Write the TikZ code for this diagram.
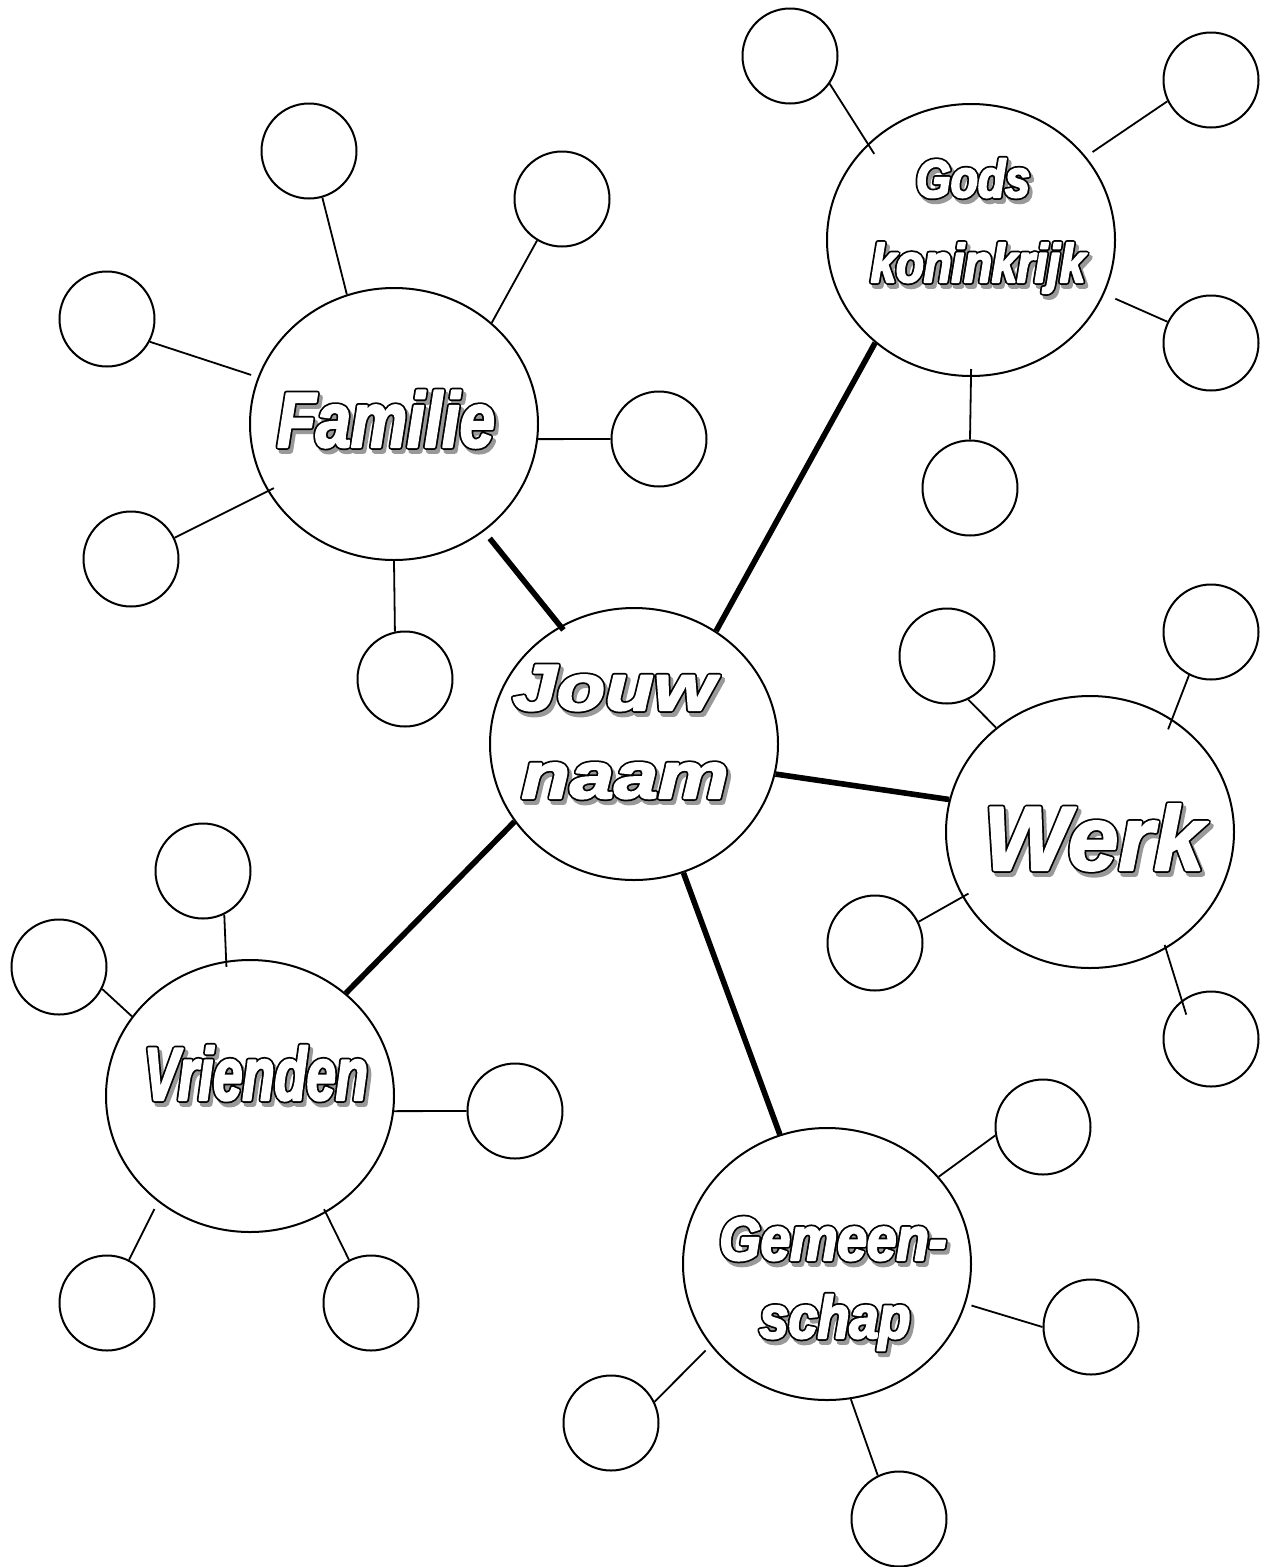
\documentclass[tikz,border=0pt]{standalone}
\usepackage{fontspec}
\usetikzlibrary{shapes.geometric}
\setmainfont{Liberation Sans}
\newfontfamily\fFam{Liberation Sans}[FakeStretch=0.81]
\newfontfamily\fVri{Liberation Sans}[FakeStretch=0.70]
\newfontfamily\fGod{Liberation Sans}[FakeStretch=0.84]
\newfontfamily\fWrk{Liberation Sans}[FakeStretch=1.0]
\newfontfamily\fJou{Liberation Sans}[FakeStretch=1.22]
\newfontfamily\fGem{Liberation Sans}[FakeStretch=0.87]
\definecolor{shadowgray}{gray}{0.6}
\newcommand\rmode[1]{\special{pdf:literal direct #1}}
\newcommand\fancytxt[1]{%
\makebox[0pt][l]{\hspace{3pt}\raisebox{-4pt}{\textcolor{shadowgray}{\rmode{2 Tr 0.6 G 5.5 w 1 j}#1\rmode{0 Tr}}}}%
\makebox[0pt][l]{\textcolor{black}{\rmode{2 Tr 0 G 5.5 w 1 j}#1\rmode{0 Tr}}}%
\textcolor{white}{\rmode{2 Tr 1 G 2 w 1 j}#1\rmode{0 Tr}}}
\begin{document}
\begin{tikzpicture}[x=1pt,y=-1pt,
  big/.style={draw,ellipse,line width=2pt,minimum width=288pt,minimum height=272pt,inner sep=0pt},
  small/.style={draw,circle,line width=2pt,minimum size=95pt,inner sep=0pt},
  thin/.style={line width=1.8pt},
  thickc/.style={line width=5.6pt},
  txt/.style={inner sep=0pt,anchor=base}]
\useasboundingbox (0,0) rectangle (1264,1567);
% big nodes
\node[big] (jouw) at (634,744) {};
\node[big] (fam) at (394,424) {};
\node[big] (gods) at (971,240) {};
\node[big] (werk) at (1090,832) {};
\node[big] (vri) at (250,1096) {};
\node[big] (gem) at (827,1264) {};
% small circles
\node[small] (f1) at (309,151) {};
\node[small] (f2) at (562,199) {};
\node[small] (f3) at (107,319) {};
\node[small] (f4) at (659,439) {};
\node[small] (f5) at (131,559) {};
\node[small] (f6) at (405,679) {};
\node[small] (g1) at (790,56) {};
\node[small] (g2) at (1211,80) {};
\node[small] (g3) at (1211,343) {};
\node[small] (g4) at (970,488) {};
\node[small] (w1) at (947,656) {};
\node[small] (w2) at (1211,632) {};
\node[small] (w3) at (875,943) {};
\node[small] (w4) at (1211,1039) {};
\node[small] (v1) at (203,871) {};
\node[small] (v2) at (59,967) {};
\node[small] (v3) at (515,1111) {};
\node[small] (v4) at (107,1303) {};
\node[small] (v5) at (371,1303) {};
\node[small] (c1) at (1043,1127) {};
\node[small] (c2) at (1091,1327) {};
\node[small] (c3) at (611,1423) {};
\node[small] (c4) at (899,1519) {};
% thick connectors
\draw[thickc,shorten <=-5pt,shorten >=9pt] (jouw.122.4) -- (fam.310.9);
\draw[thickc] (jouw.54.1) -- (gods.227.3);
\draw[thickc] (jouw.348) -- (werk.167.4);
\draw[thickc] (jouw.213.9) -- (vri.47);
\draw[thickc] (jouw.291) -- (gem.110.6);
% thin connectors
\draw[thin] (f1.286) -- (fam.110.6);
\draw[thin] (f2.239.7) -- (fam.46.7);
\draw[thin,shorten >=7pt] (f3.332.5) -- (fam.161.8);
\draw[thin] (f4.180) -- (fam.354);
\draw[thin,shorten >=-7pt] (f5.26.6) -- (fam.208.3);
\draw[thin] (f6.102) -- (fam.270);
\draw[thin,shorten >=-12pt] (g1.325) -- (gods.137.2);
\draw[thin,shorten >=8pt] (g2.206.6) -- (gods.36.3);
\draw[thin,shorten >=12pt] (g3.154.4) -- (gods.338.7);
\draw[thin,shorten >=-8pt] (g4.90) -- (gods.270);
\draw[thin] (w1.296.6) -- (werk.132.4);
\draw[thin,shorten >=-11pt] (w2.243.4) -- (werk.54.9);
\draw[thin,shorten >=-7pt] (w3.26.6) -- (werk.207.9);
\draw[thin,shorten <=-15pt,shorten >=-4pt] (w4.127.6) -- (werk.303.1);
\draw[thin,shorten >=-6pt] (v1.296.6) -- (vri.100.2);
\draw[thin] (v2.333.4) -- (vri.146.1);
\draw[thin] (v3.180) -- (vri.354);
\draw[thin,shorten >=8pt] (v4.63) -- (vri.229.7);
\draw[thin,shorten >=-4pt] (v5.117) -- (vri.303.1);
\draw[thin] (c1.190.6) -- (gem.38.5);
\draw[thin,shorten >=6pt] (c2.180) -- (gem.344.5);
\draw[thin,shorten >=7pt] (c3.26.6) -- (gem.215.9);
\draw[thin] (c4.116.6) -- (gem.280.1);
% labels
\node[txt] (tfam) at (386,447) {\fFam\bfseries\itshape\fontsize{78}{80}\selectfont\fancytxt{Familie}};
\node[txt] (tjou1) at (614,710) {\fJou\bfseries\itshape\fontsize{65}{66}\selectfont\fancytxt{Jouw}};
\node[txt] (tjou2) at (625,798) {\fJou\bfseries\itshape\fontsize{65}{66}\selectfont\fancytxt{naam}};
\node[txt] (tgod1) at (973,197) {\fGod\bfseries\itshape\fontsize{53}{55}\selectfont\fancytxt{Gods}};
\node[txt] (tgod2) at (978,282) {\fGod\bfseries\itshape\fontsize{54}{55}\selectfont\fancytxt{koninkrijk}};
\node[txt] (twrk) at (1094,870) {\fWrk\bfseries\itshape\fontsize{91}{92}\selectfont\fancytxt{Werk}};
\node[txt] (tvri) at (256,1100) {\fVri\bfseries\itshape\fontsize{75}{76}\selectfont\fancytxt{Vrienden}};
\node[txt] (tgem1) at (833,1260) {\fGem\bfseries\itshape\fontsize{61}{62}\selectfont\fancytxt{Gemeen-}};
\node[txt] (tgem2) at (835,1338) {\fGem\bfseries\itshape\fontsize{60}{62}\selectfont\fancytxt{schap}};
\end{tikzpicture}
\end{document}
